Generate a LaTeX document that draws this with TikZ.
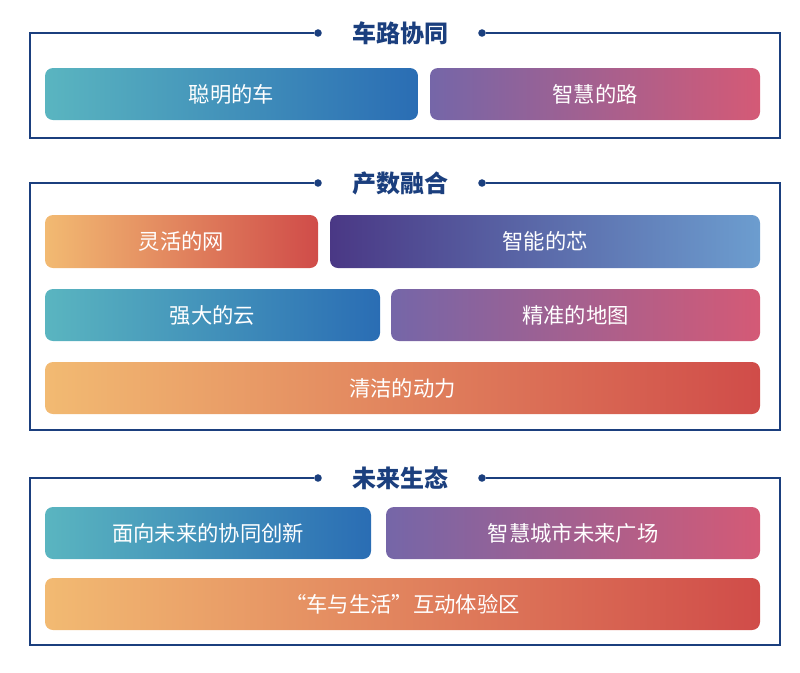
\documentclass[tikz,border=0pt]{standalone}
\usepackage{fontspec}
\newfontfamily\cjk{Noto Sans CJK SC}
\definecolor{navy}{HTML}{1B3F7E}
\definecolor{tealA}{HTML}{5AB5C0}
\definecolor{blueA}{HTML}{2A6DB4}
\definecolor{purpA}{HTML}{7566A8}
\definecolor{pinkA}{HTML}{D45A76}
\definecolor{orgA}{HTML}{F2BA72}
\definecolor{redA}{HTML}{D04C49}
\definecolor{darkP}{HTML}{4A3885}
\definecolor{liteB}{HTML}{6C9DCF}
\begin{document}
\begin{tikzpicture}[x=0.75pt, y=-0.75pt,
  every node/.style={font=\cjk},
  bar/.style={rounded corners=6pt, draw=none},
  bartext/.style={text=white, font=\cjk\fontsize{16}{18}\selectfont},
  frame/.style={draw=navy, line width=1.2pt},
  title/.style={text=navy, font=\cjk\bfseries\fontsize{18}{20}\selectfont},
  dot/.style={circle, fill=navy, inner sep=2pt}]

\useasboundingbox (0,0) rectangle (800,672);

% ---- frames with titles ----
\foreach \top/\bot/\name/\txt in {33/138/t1/车路协同, 183/430/t2/产数融合, 478/645/t3/未来生态}{
  \node[title] (\name) at (400,\top) {\txt};
  \node[dot] (\name l) at (318,\top) {};
  \node[dot] (\name r) at (482,\top) {};
  \draw[frame] (\name l) -- (30,\top) -- (30,\bot) -- (780,\bot) -- (780,\top) -- (\name r);
}

% ---- bars ----
\newcommand{\gbar}[7]{%
  \shade[bar, left color=#5, right color=#6] (#1,#2) rectangle (#3,#4);
  \node[bartext] at ({(#1+#3)/2},{(#2+#4)/2}) {#7};}

\gbar{45}{68}{418}{120}{tealA}{blueA}{聪明的车}
\gbar{430}{68}{760}{120}{purpA}{pinkA}{智慧的路}

\gbar{45}{215}{318}{268}{orgA}{redA}{灵活的网}
\gbar{330}{215}{760}{268}{darkP}{liteB}{智能的芯}
\gbar{45}{289}{380}{341}{tealA}{blueA}{强大的云}
\gbar{391}{289}{760}{341}{purpA}{pinkA}{精准的地图}
\gbar{45}{362}{760}{414}{orgA}{redA}{清洁的动力}

\gbar{45}{507}{371}{559}{tealA}{blueA}{面向未来的协同创新}
\gbar{386}{507}{760}{559}{purpA}{pinkA}{智慧城市未来广场}
\gbar{45}{578}{760}{630}{orgA}{redA}{“车与生活”互动体验区}

\end{tikzpicture}
\end{document}
